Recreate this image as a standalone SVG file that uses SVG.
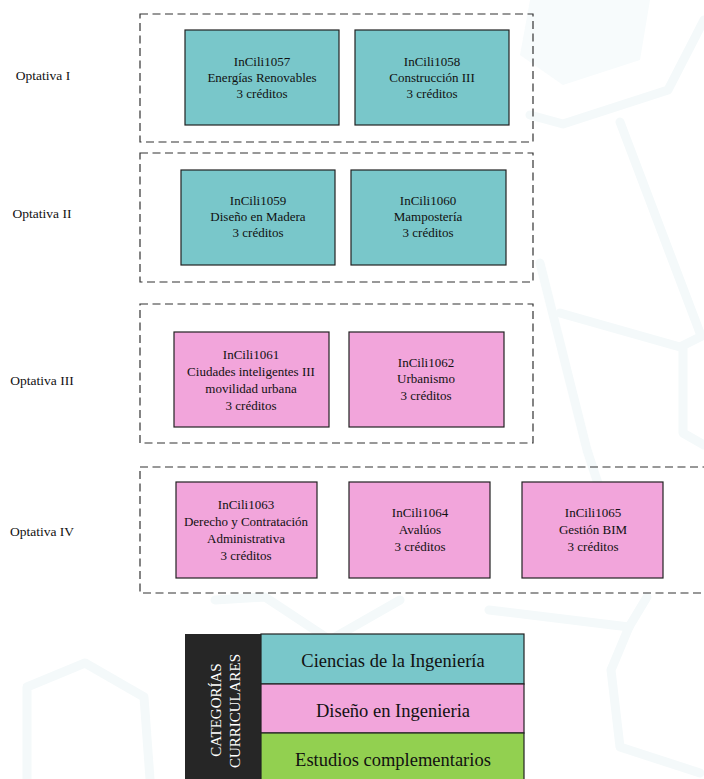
<svg xmlns="http://www.w3.org/2000/svg" width="704" height="779" viewBox="0 0 704 779">
<style>
.grp{fill:none;stroke:#333;stroke-width:1.2;stroke-dasharray:8,4.5}
.n rect{stroke:#222;stroke-width:1.2}
.t{fill:#79C7CA}
.p{fill:#F2A5DB}
.g{fill:#92D050}
.bg{fill:none;stroke:#f4f9fa;stroke-width:9;stroke-linejoin:round;stroke-linecap:round}
text{font-family:"Liberation Serif","Times New Roman",serif;fill:#111}
.nt{font-size:13px;text-anchor:middle}
.lb{font-size:13.5px;text-anchor:middle}
.lg{font-size:18.5px;text-anchor:middle}
.vt{font-size:15px;text-anchor:middle;fill:#fff}
</style>
<rect width="704" height="779" fill="#fff"/>
<g id="background">
<path d="M530,0 L650,0 L640,60 L563,85 L520,55 Z" fill="#f7fbfc" stroke="none"/>
<path class="bg" d="M530,115 L563,124 L668,90 L704,20"/>
<path class="bg" d="M620,122 L700,333"/>
<path class="bg" d="M560,313 L680,347 L704,335"/>
<path class="bg" d="M540,263 L587,450 L610,520"/>
<path class="bg" d="M683,347 L683,433 L704,445"/>
<path class="bg" d="M27,779 L27,687 L85,663 L144,697 L150,779"/>
<path class="bg" d="M215,600 L265,597 L330,640 L400,600"/>
<path class="bg" d="M489,610 L629,627 L647,597"/>
<path class="bg" d="M629,627 L611,670 L620,747 L700,773"/>
</g>
<g id="groups">
<rect class="grp" x="140" y="14" width="393" height="128"/>
<rect class="grp" x="140" y="153" width="393" height="129"/>
<rect class="grp" x="140" y="304" width="393" height="139"/>
<rect class="grp" x="140" y="467" width="580" height="126"/>
</g>
<g id="labels">
<text class="lb" x="43" y="80">Optativa I</text>
<text class="lb" x="42" y="218">Optativa II</text>
<text class="lb" x="42" y="385">Optativa III</text>
<text class="lb" x="42" y="536">Optativa IV</text>
</g>
<g id="n1057" class="n"><rect class="t" x="185" y="30" width="154" height="95"/>
<text class="nt" x="262" y="66">InCili1057</text><text class="nt" x="262" y="82">Energías Renovables</text><text class="nt" x="262" y="98">3 créditos</text></g>
<g id="n1058" class="n"><rect class="t" x="355" y="30" width="154" height="95"/>
<text class="nt" x="432" y="66">InCili1058</text><text class="nt" x="432" y="82">Construcción III</text><text class="nt" x="432" y="98">3 créditos</text></g>
<g id="n1059" class="n"><rect class="t" x="181" y="170" width="154" height="95"/>
<text class="nt" x="258" y="205">InCili1059</text><text class="nt" x="258" y="221">Diseño en Madera</text><text class="nt" x="258" y="237">3 créditos</text></g>
<g id="n1060" class="n"><rect class="t" x="351" y="170" width="155" height="95"/>
<text class="nt" x="428" y="205">InCili1060</text><text class="nt" x="428" y="221">Mampostería</text><text class="nt" x="428" y="237">3 créditos</text></g>
<g id="n1061" class="n"><rect class="p" x="174" y="332" width="155" height="95"/>
<text class="nt" x="251" y="359">InCili1061</text><text class="nt" x="251" y="376">Ciudades inteligentes III</text><text class="nt" x="251" y="393">movilidad urbana</text><text class="nt" x="251" y="410">3 créditos</text></g>
<g id="n1062" class="n"><rect class="p" x="349" y="332" width="155" height="95"/>
<text class="nt" x="426" y="367">InCili1062</text><text class="nt" x="426" y="383">Urbanismo</text><text class="nt" x="426" y="400">3 créditos</text></g>
<g id="n1063" class="n"><rect class="p" x="176" y="482" width="141" height="96"/>
<text class="nt" x="246" y="509">InCili1063</text><text class="nt" x="246" y="526">Derecho y Contratación</text><text class="nt" x="246" y="543">Administrativa</text><text class="nt" x="246" y="560">3 créditos</text></g>
<g id="n1064" class="n"><rect class="p" x="349" y="482" width="141" height="96"/>
<text class="nt" x="420" y="517">InCili1064</text><text class="nt" x="420" y="534">Avalúos</text><text class="nt" x="420" y="551">3 créditos</text></g>
<g id="n1065" class="n"><rect class="p" x="522" y="482" width="141" height="96"/>
<text class="nt" x="593" y="517">InCili1065</text><text class="nt" x="593" y="534">Gestión BIM</text><text class="nt" x="593" y="551">3 créditos</text></g>
<g id="connectors"></g>
<g id="legend">
<rect x="185" y="634" width="76" height="150" fill="#262626"/>
<text class="vt" transform="translate(221,710) rotate(-90)">CATEGORÍAS</text>
<text class="vt" transform="translate(240,711) rotate(-90)">CURRICULARES</text>
<rect class="t" x="261" y="634" width="263" height="50" stroke="#222" stroke-width="1.2"/>
<rect class="p" x="261" y="684" width="263" height="49" stroke="#222" stroke-width="1.2"/>
<rect class="g" x="261" y="733" width="263" height="50" stroke="#222" stroke-width="1.2"/>
<text class="lg" x="393" y="667">Ciencias de la Ingeniería</text>
<text class="lg" x="393" y="717">Diseño en Ingenieria</text>
<text class="lg" x="393" y="766">Estudios complementarios</text>
</g>
</svg>
